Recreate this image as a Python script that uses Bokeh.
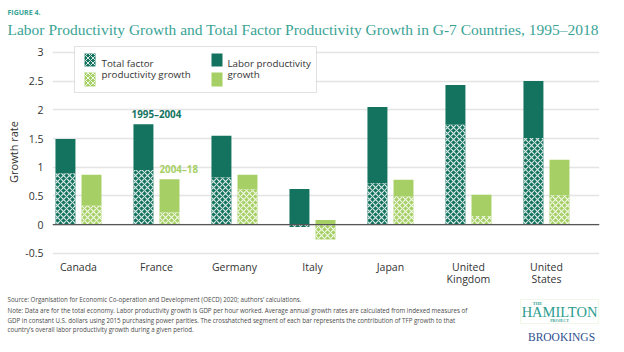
from bokeh.plotting import figure
from bokeh.models import Label, BoxAnnotation, Span, Range1d
from bokeh.layouts import column
from bokeh.embed import file_html
from bokeh.resources import INLINE

# ---------------- data ----------------
countries = ["Canada", "France", "Germany", "Italy", "Japan", "United\nKingdom", "United\nStates"]
lp_1995_2004 = [1.49, 1.75, 1.55, 0.62, 2.05, 2.43, 2.50]
tfp_1995_2004 = [0.89, 0.95, 0.82, -0.04, 0.72, 1.74, 1.51]
lp_2004_2018 = [0.87, 0.79, 0.87, 0.08, 0.78, 0.52, 1.13]
tfp_2004_2018 = [0.33, 0.21, 0.61, -0.26, 0.49, 0.15, 0.51]
y_ticks = [-0.5, 0, 0.5, 1, 1.5, 2, 2.5, 3]
y_tick_labels = ["-0.5", "0", "0.5", "1", "1.5", "2", "2.5", "3"]

title_text = "Labor Productivity Growth and Total Factor Productivity Growth in G-7 Countries, 1995\u20132018"
figure_text = "FIGURE 4."
source_lines = [
    "Source: Organisation for Economic Co-operation and Development (OECD) 2020; authors\u2019 calculations.",
    "Note: Data are for the total economy. Labor productivity growth is GDP per hour worked. Average annual growth rates are calculated from indexed measures of",
    "GDP in constant U.S. dollars using 2015 purchasing power parities. The crosshatched segment of each bar represents the contribution of TFP growth to that",
    "country\u2019s overall labor productivity growth during a given period.",
]

# ---------------- style ----------------
DARK = "#14735f"
LIGHT = "#a6d066"
TEAL = "#3aa395"
TXT = "#333333"
SANS = "Open Sans"
SERIF = "Liberation Serif"

W = 624
HEAD_H, MAIN_H, FOOT_H = 40, 250, 62
FL, FR, FT, FB = 52, 599, 45, 258          # frame in page pixels
X0, X1 = -0.333, 6.68
Y0, Y1 = -0.59, 3.12


def cx(px):
    return X0 + (px - FL) / (FR - FL) * (X1 - X0)


def cy(py):
    return Y1 - (py - FT) / (FB - FT) * (Y1 - Y0)


def blank(height, top):
    f = figure(width=W, height=height, x_range=Range1d(0, W), y_range=Range1d(top + height, top),
               output_backend="svg", toolbar_location=None, x_axis_type=None, y_axis_type=None,
               min_border=0, min_border_left=0, min_border_right=0, min_border_top=0,
               min_border_bottom=0, frame_align=False)
    f.outline_line_color = None
    f.background_fill_color = "white"
    f.border_fill_color = "white"
    f.xgrid.visible = False
    f.ygrid.visible = False
    return f


# ---------------- header ----------------
head = blank(HEAD_H, 0)
head.add_layout(Label(x=7, y=12, text=figure_text, text_align="left", text_baseline="middle",
                      text_font=SANS, text_font_size="7px", text_font_style="bold", text_color=TEAL))
head.add_layout(Label(x=7, y=29, text=title_text, text_align="left", text_baseline="middle",
                      text_font=SERIF, text_font_size="15.5px", text_color=TEAL))

# ---------------- main chart ----------------
p = figure(width=W, height=MAIN_H, x_range=Range1d(X0, X1), y_range=Range1d(Y0, Y1),
           output_backend="svg", toolbar_location=None, frame_align=False,
           min_border_left=FL, min_border_right=W - FR, min_border_top=FT - HEAD_H,
           min_border_bottom=HEAD_H + MAIN_H - FB)
p.outline_line_color = None
p.background_fill_color = "white"
p.border_fill_color = "white"

p.xgrid.grid_line_color = None
p.ygrid.grid_line_color = "#e4e4e4"
p.ygrid.grid_line_width = 1.3

p.yaxis.ticker = y_ticks
p.yaxis.major_label_overrides = {t: l for t, l in zip(y_ticks, y_tick_labels)}
p.yaxis.axis_line_color = None
p.yaxis.major_tick_line_color = None
p.yaxis.minor_tick_line_color = None
p.yaxis.major_tick_out = 0
p.yaxis.minor_tick_out = 0
p.yaxis.major_label_text_font = SANS
p.yaxis.major_label_text_font_size = "10.5px"
p.yaxis.major_label_text_color = TXT
p.yaxis.major_label_standoff = 9
p.yaxis.axis_label = "Growth rate"
p.yaxis.axis_label_text_font = SANS
p.yaxis.axis_label_text_font_size = "11px"
p.yaxis.axis_label_text_font_style = "normal"
p.yaxis.axis_label_text_color = TXT
p.yaxis.axis_label_standoff = 1

idx = list(range(len(countries)))
p.xaxis.ticker = idx
p.xaxis.major_label_overrides = {i: c for i, c in zip(idx, countries)}
p.xaxis.axis_line_color = None
p.xaxis.major_tick_line_color = None
p.xaxis.minor_tick_line_color = None
p.xaxis.major_tick_out = 0
p.xaxis.minor_tick_out = 0
p.xaxis.major_label_text_font = SANS
p.xaxis.major_label_text_font_size = "10.5px"
p.xaxis.major_label_text_color = TXT
p.xaxis.major_label_text_line_height = 0.9
p.xaxis.major_label_standoff = 1

OFF = 0.167
BW = 0.256
x_dark = [i - OFF for i in idx]
x_light = [i + OFF for i in idx]

hatch = dict(hatch_pattern="diagonal_cross", hatch_color="white", hatch_scale=6,
             hatch_weight=1.1, hatch_alpha=0.85, line_color=None)

p.vbar(x=x_dark, width=BW, bottom=[max(0, t) for t in tfp_1995_2004], top=lp_1995_2004,
       fill_color=DARK, line_color=None)
p.vbar(x=x_dark, width=BW, bottom=0, top=tfp_1995_2004, fill_color=DARK, **hatch)
p.vbar(x=x_light, width=BW, bottom=[max(0, t) for t in tfp_2004_2018], top=lp_2004_2018,
       fill_color=LIGHT, line_color=None)
p.vbar(x=x_light, width=BW, bottom=0, top=tfp_2004_2018, fill_color=LIGHT, **hatch)

p.add_layout(Span(location=0, dimension="width", line_color="#555555", line_width=1.3))

p.add_layout(Label(x=idx[1], y=lp_1995_2004[1], y_offset=3, text="1995\u20132004",
                   text_align="center", text_baseline="bottom", text_font=SANS,
                   text_font_size="9.8px", text_font_style="bold", text_color=DARK))
p.add_layout(Label(x=idx[1] + OFF - BW / 2, y=lp_2004_2018[1], y_offset=3, text="2004\u201318",
                   text_align="left", text_baseline="bottom", text_font=SANS,
                   text_font_size="9.8px", text_font_style="bold", text_color=LIGHT))

# legend (manual)
p.add_layout(BoxAnnotation(left=cx(74), right=cx(316), top=cy(46), bottom=cy(92),
                           fill_color="white", fill_alpha=1, line_color="#9a9a9a", line_width=1))
p.add_layout(BoxAnnotation(left=cx(84), right=cx(95), top=cy(53), bottom=cy(66),
                           fill_color=DARK, fill_alpha=1, hatch_pattern="diagonal_cross",
                           hatch_color="white", hatch_scale=5, hatch_weight=1, hatch_alpha=0.85,
                           line_color=None))
p.add_layout(BoxAnnotation(left=cx(84), right=cx(95), top=cy(72), bottom=cy(86),
                           fill_color=LIGHT, fill_alpha=1, hatch_pattern="diagonal_cross",
                           hatch_color="white", hatch_scale=5, hatch_weight=1, hatch_alpha=0.85,
                           line_color=None))
p.add_layout(BoxAnnotation(left=cx(211), right=cx(222), top=cy(53), bottom=cy(66),
                           fill_color=DARK, fill_alpha=1, line_color=None))
p.add_layout(BoxAnnotation(left=cx(211), right=cx(222), top=cy(72), bottom=cy(86),
                           fill_color=LIGHT, fill_alpha=1, line_color=None))
for tx, ty, t in [(101, 62.5, "Total factor"), (101, 73.5, "productivity growth"),
                  (227, 62.5, "Labor productivity"), (227, 73.5, "growth")]:
    p.add_layout(Label(x=cx(tx), y=cy(ty), text=t, text_align="left", text_baseline="middle",
                       text_font=SANS, text_font_size="9.8px", text_color=TXT))

# ---------------- footer ----------------
foot = blank(FOOT_H, HEAD_H + MAIN_H)
for ln, yy in zip(source_lines, [299, 310, 319.5, 329]):
    foot.add_layout(Label(x=7, y=yy, text=ln, text_align="left", text_baseline="middle",
                          text_font=SANS, text_font_size="6.2px", text_color="#4a4a4a"))
foot.add_layout(BoxAnnotation(left=520, right=598, top=299, bottom=323, fill_alpha=0,
                              line_color="#cfe7b0", line_width=1.2))
for tx, ty, t, fs, st, col in [(537, 302.5, "THE", "4.5px", "bold", TEAL),
                               (559, 311, "HAMILTON", "14.5px", "normal", "#2a9d8f"),
                               (559, 319.5, "PROJECT", "4px", "bold", TEAL),
                               (561, 336, "BROOKINGS", "11.5px", "normal", "#2f4f8f")]:
    foot.add_layout(Label(x=tx, y=ty, text=t, text_align="center", text_baseline="middle",
                          text_font=SERIF, text_font_size=fs, text_font_style=st, text_color=col))

layout = column(head, p, foot, spacing=0)
open("out.html", "w").write(file_html(layout, INLINE))
